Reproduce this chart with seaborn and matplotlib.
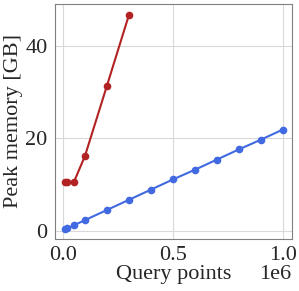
import pandas as pd
import matplotlib
matplotlib.use("Agg")
import matplotlib.pyplot as plt
import matplotlib.transforms as mtransforms
import seaborn as sns

blue_x = [0.01e6, 0.02e6, 0.05e6, 0.1e6, 0.2e6, 0.3e6, 0.4e6, 0.5e6, 0.6e6, 0.7e6, 0.8e6, 0.9e6, 1.0e6]
blue_y = [0.3, 0.5, 1.2, 2.3, 4.5, 6.7, 8.9, 11.1, 13.2, 15.4, 17.6, 19.7, 21.9]
red_x = [0.01e6, 0.02e6, 0.05e6, 0.1e6, 0.2e6, 0.3e6]
red_y = [10.6, 10.6, 10.6, 16.2, 31.4, 46.7]

sns.set_style("whitegrid")
plt.rcParams["font.family"] = "serif"
plt.rcParams["font.serif"] = ["Liberation Serif", "TeX Gyre Termes", "DejaVu Serif"]
plt.rcParams["axes.edgecolor"] = "gray"
plt.rcParams["grid.color"] = "#d9d9d9"

fig, ax = plt.subplots(figsize=(2.99, 2.91), dpi=100)
sns.lineplot(x=blue_x, y=blue_y, color="royalblue", marker="o", markersize=5.5,
             markeredgewidth=0, linewidth=1.5, ax=ax)
sns.lineplot(x=red_x, y=red_y, color="firebrick", marker="o", markersize=5.5,
             markeredgewidth=0, linewidth=1.5, ax=ax)

ax.set_xlim(-0.035e6, 1.04e6)
ax.set_ylim(-1.7, 49)
ax.set_xticks([0, 0.5e6, 1.0e6])
ax.set_yticks([0, 20, 40])
ax.tick_params(labelsize=16, pad=2)
ax.set_xlabel("Query points", fontsize=16, labelpad=0)
ax.set_ylabel("Peak memory [GB]", fontsize=16, labelpad=2)

fig.subplots_adjust(left=0.185, right=0.975, top=0.985, bottom=0.18)
# lift the 1e6 offset label to sit on the xlabel line
off = ax.xaxis.get_offset_text()
off.set_fontsize(16)
off.set_transform(off.get_transform() + mtransforms.ScaledTranslation(0, 0.045, fig.dpi_scale_trans))
fig.savefig("out.png", dpi=100)
